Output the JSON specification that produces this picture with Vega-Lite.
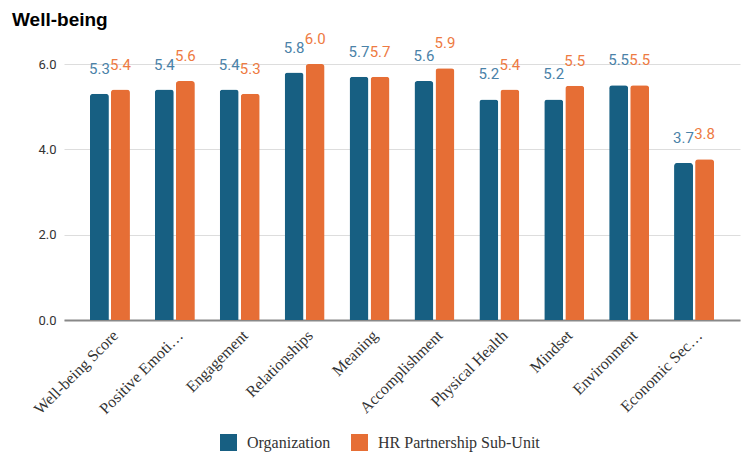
{
  "$schema": "https://vega.github.io/schema/vega-lite/v6.json",
  "width": 676,
  "height": 256,
  "autosize": "none",
  "padding": {"left": 64, "top": 64, "right": 11, "bottom": 149},
  "background": "white",
  "title": {"text": "Well-being", "anchor": "start", "frame": "group", "dx": -52, "dy": 6, "font": "Liberation Sans", "fontSize": 19, "fontWeight": "bold", "color": "#000000", "offset": 8},
  "config": {"view": {"stroke": null}},
  "data": {"values": [
    {"category": "Well-being Score", "group": "Organization", "value": 5.3},
    {"category": "Well-being Score", "group": "HR Partnership Sub-Unit", "value": 5.4},
    {"category": "Positive Emoti…", "group": "Organization", "value": 5.4},
    {"category": "Positive Emoti…", "group": "HR Partnership Sub-Unit", "value": 5.6},
    {"category": "Engagement", "group": "Organization", "value": 5.4},
    {"category": "Engagement", "group": "HR Partnership Sub-Unit", "value": 5.3},
    {"category": "Relationships", "group": "Organization", "value": 5.8},
    {"category": "Relationships", "group": "HR Partnership Sub-Unit", "value": 6.0},
    {"category": "Meaning", "group": "Organization", "value": 5.7},
    {"category": "Meaning", "group": "HR Partnership Sub-Unit", "value": 5.7},
    {"category": "Accomplishment", "group": "Organization", "value": 5.6},
    {"category": "Accomplishment", "group": "HR Partnership Sub-Unit", "value": 5.9},
    {"category": "Physical Health", "group": "Organization", "value": 5.17},
    {"category": "Physical Health", "group": "HR Partnership Sub-Unit", "value": 5.4},
    {"category": "Mindset", "group": "Organization", "value": 5.17},
    {"category": "Mindset", "group": "HR Partnership Sub-Unit", "value": 5.49},
    {"category": "Environment", "group": "Organization", "value": 5.5},
    {"category": "Environment", "group": "HR Partnership Sub-Unit", "value": 5.5},
    {"category": "Economic Sec…", "group": "Organization", "value": 3.68},
    {"category": "Economic Sec…", "group": "HR Partnership Sub-Unit", "value": 3.77}
  ]},
  "encoding": {
    "x": {"field": "category", "type": "nominal", "sort": null,
      "scale": {"paddingInner": 0.384, "paddingOuter": 0.4},
      "axis": {"title": null, "labelAngle": -45, "labelAlign": "right", "labelBaseline": "top", "labelPadding": 7, "labelFont": "Liberation Serif", "labelFontSize": 16, "labelColor": "#333333", "ticks": false, "domainColor": "#888888", "domainWidth": 2, "grid": false, "labelLimit": 200}},
    "xOffset": {"field": "group", "type": "nominal", "sort": ["Organization", "HR Partnership Sub-Unit"], "scale": {"paddingInner": 0.1, "paddingOuter": 0}},
    "y": {"field": "value", "type": "quantitative",
      "scale": {"domain": [0, 6], "nice": false},
      "axis": {"title": null, "values": [0, 2, 4, 6], "format": ".1f", "domain": false, "ticks": false, "labelPadding": 8, "labelFont": "Roboto", "labelFontSize": 13, "labelColor": "#333333", "gridColor": "#dddddd"}}
  },
  "layer": [
    {
      "mark": {"type": "bar", "cornerRadiusTopLeft": 3, "cornerRadiusTopRight": 3},
      "encoding": {
        "color": {"field": "group", "type": "nominal", "sort": ["Organization", "HR Partnership Sub-Unit"],
          "scale": {"domain": ["Organization", "HR Partnership Sub-Unit"], "range": ["#175f82", "#e66e35"]},
          "legend": {"title": null, "orient": "none", "legendX": 156, "legendY": 370, "direction": "horizontal", "symbolType": "square", "symbolSize": 289, "symbolStrokeWidth": 0, "labelFont": "Liberation Serif", "labelFontSize": 16, "labelColor": "#333333", "labelLimit": 400, "columnPadding": 20, "labelOffset": 10}}
      }
    },
    {
      "mark": {"type": "text", "baseline": "bottom", "dy": -17, "font": "Roboto", "fontSize": 15},
      "encoding": {
        "text": {"field": "value", "type": "quantitative", "format": ".1f"},
        "color": {"condition": {"test": "datum.group === 'Organization'", "value": "#4a82a8"}, "value": "#ee7a42"}
      }
    }
  ]
}
